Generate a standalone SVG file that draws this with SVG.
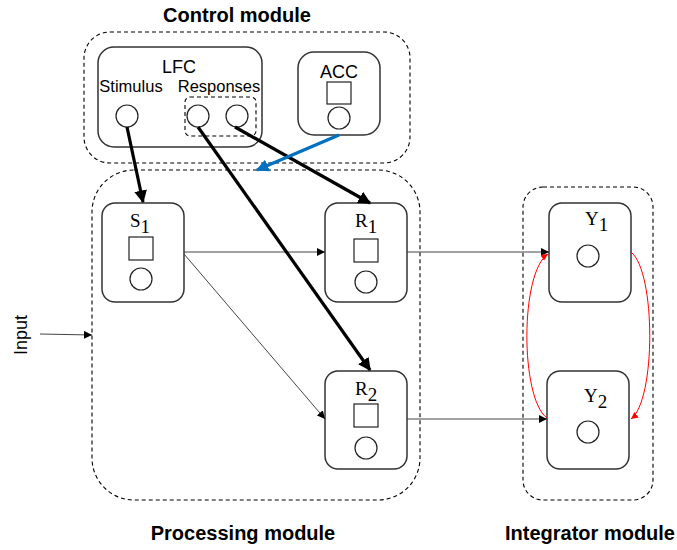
<svg xmlns="http://www.w3.org/2000/svg" width="677" height="550" viewBox="0 0 677 550">
  <defs>
    <style>
      .module { fill: none; stroke: #000; stroke-width: 1.1; stroke-dasharray: 4 3; }
      .box { fill: #fff; stroke: #333; stroke-width: 1.5; }
      .unit { fill: #fff; stroke: #222; stroke-width: 1.2; }
      .title { font-family: "Liberation Sans", Arial, sans-serif; font-weight: bold; font-size: 20px; fill: #000; }
      .lbl { font-family: "Liberation Sans", Arial, sans-serif; font-size: 16.5px; fill: #000; }
      .name { font-family: "Liberation Sans", Arial, sans-serif; font-size: 18px; fill: #000; }
      .math { font-family: "Liberation Serif", "Times New Roman", serif; font-size: 19px; fill: #000; }
      .thin { fill: none; stroke: #444; stroke-width: 1; marker-end: url(#tri); }
      .thick { fill: none; stroke: #000; stroke-width: 3.2; marker-end: url(#triBold); }
      .blue { fill: none; stroke: #0070C0; stroke-width: 3.2; marker-end: url(#triBlue); }
      .red { fill: none; stroke: #ff0000; stroke-width: 1; marker-end: url(#triRed); }
    </style>
    <marker id="tri" viewBox="0 0 10 10" refX="10" refY="5" markerWidth="8" markerHeight="8" markerUnits="userSpaceOnUse" orient="auto">
      <path d="M0,0 L10,5 L0,10 z" fill="#000"/>
    </marker>
    <marker id="triBold" viewBox="0 0 10 10" refX="9" refY="5" markerWidth="4" markerHeight="4" orient="auto">
      <path d="M0,0 L10,5 L0,10 z" fill="#000"/>
    </marker>
    <marker id="triBlue" viewBox="0 0 10 10" refX="9" refY="5" markerWidth="4" markerHeight="4" orient="auto">
      <path d="M0,0 L10,5 L0,10 z" fill="#0070C0"/>
    </marker>
    <marker id="triRed" viewBox="0 0 10 10" refX="10" refY="5" markerWidth="7" markerHeight="7" markerUnits="userSpaceOnUse" orient="auto">
      <path d="M0,0 L10,5 L0,10 z" fill="#ff0000"/>
    </marker>
  </defs>

  <rect width="677" height="550" fill="#fff"/>

  <!-- module outlines and titles -->
  <g id="control-module">
    <rect class="module" x="84" y="32" width="326" height="131" rx="26"/>
    <text class="title" x="237" y="22" text-anchor="middle">Control module</text>
  </g>
  <g id="processing-module">
    <rect class="module" x="92" y="170" width="328" height="330" rx="42"/>
    <text class="title" x="243" y="540" text-anchor="middle">Processing module</text>
  </g>
  <g id="integrator-module">
    <rect class="module" x="523" y="187" width="130" height="313" rx="20"/>
    <text class="title" x="590" y="540" text-anchor="middle">Integrator module</text>
  </g>

  <!-- control units -->
  <g id="lfc">
    <rect class="box" x="98" y="47" width="164" height="100" rx="16"/>
    <text class="name" x="179" y="73" text-anchor="middle">LFC</text>
    <text class="lbl" x="131" y="92" text-anchor="middle">Stimulus</text>
    <text class="lbl" x="219" y="92" text-anchor="middle">Responses</text>
    <rect class="module" x="185" y="97" width="71" height="39" rx="5" stroke-width="1"/>
    <circle class="unit" cx="127" cy="116" r="11"/>
    <circle class="unit" cx="198" cy="116" r="11"/>
    <circle class="unit" cx="237" cy="116" r="11"/>
  </g>
  <g id="acc">
    <rect class="box" x="298" y="52" width="82" height="83" rx="16"/>
    <text class="name" x="339" y="78" text-anchor="middle">ACC</text>
    <rect class="unit" x="327" y="82" width="24" height="22"/>
    <circle class="unit" cx="339" cy="118" r="11"/>
  </g>

  <!-- processing units -->
  <g id="s1">
    <rect class="box" x="102" y="203" width="82" height="99" rx="13"/>
    <text class="math" x="130" y="227">S<tspan dy="6">1</tspan></text>
    <rect class="unit" x="129" y="237" width="24" height="23"/>
    <circle class="unit" cx="141" cy="279" r="11"/>
  </g>
  <g id="r1">
    <rect class="box" x="325" y="203" width="82" height="99" rx="13"/>
    <text class="math" x="355" y="227">R<tspan dy="6">1</tspan></text>
    <rect class="unit" x="354" y="239" width="24" height="23"/>
    <circle class="unit" cx="366" cy="282" r="11"/>
  </g>
  <g id="r2">
    <rect class="box" x="325" y="371" width="82" height="98" rx="13"/>
    <text class="math" x="355" y="395">R<tspan dy="6">2</tspan></text>
    <rect class="unit" x="354" y="404" width="24" height="23"/>
    <circle class="unit" cx="366" cy="448" r="11"/>
  </g>

  <!-- integrator units -->
  <g id="y1">
    <rect class="box" x="549" y="203" width="82" height="99" rx="13"/>
    <text class="math" x="585" y="225">Y<tspan dy="6">1</tspan></text>
    <circle class="unit" cx="588" cy="256" r="11"/>
  </g>
  <g id="y2">
    <rect class="box" x="547" y="371" width="82" height="98" rx="13"/>
    <text class="math" x="584" y="402">Y<tspan dy="6">2</tspan></text>
    <circle class="unit" cx="588" cy="432" r="11"/>
  </g>

  <g id="input">
    <text class="name" transform="translate(27,335) rotate(-90)" text-anchor="middle">Input</text>
  </g>

  <!-- connectors -->
  <g id="connectors">
    <path class="thin" d="M40,334 L92,335"/>
    <path class="thin" d="M184,252 L325,252"/>
    <path class="thin" d="M184,254 L325,419"/>
    <path class="thin" d="M407,252 L549,252"/>
    <path class="thin" d="M407,419 L547,419"/>
    <path class="thick" d="M127,127 L143,202"/>
    <path class="thick" d="M198,127 L370,370"/>
    <path class="thick" d="M235,127 L370,203"/>
    <path class="blue" d="M339,135 L257,170"/>
    <path class="red" d="M631,252 C656,272 656,400 631,419"/>
    <path class="red" d="M547,418 C520,398 520,272 548,254"/>
  </g>
</svg>
